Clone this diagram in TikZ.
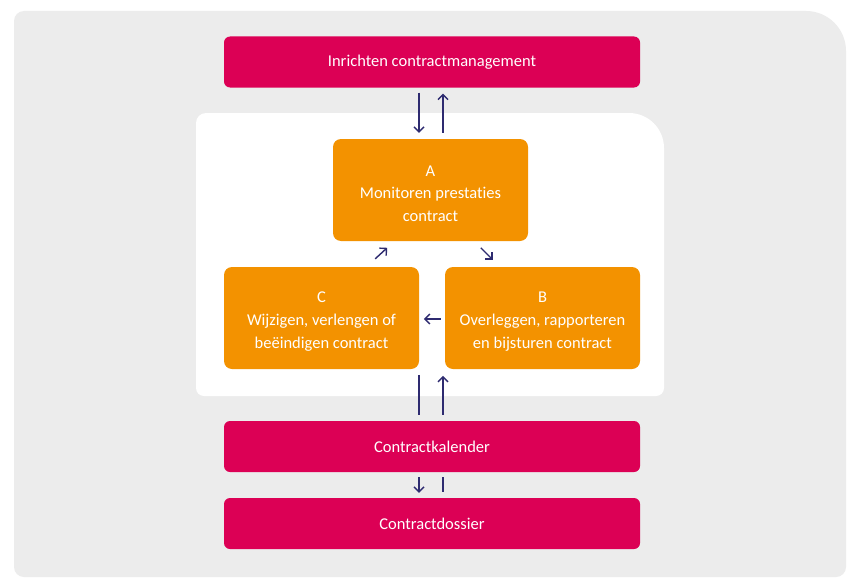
\documentclass[tikz,border=0pt]{standalone}
\usepackage{fontspec}
\setmainfont{Carlito}[Ligatures={NoCommon}]
\usetikzlibrary{arrows.meta,calc}
\definecolor{bggray}{RGB}{236,236,236}
\definecolor{magbox}{RGB}{220,0,85}
\definecolor{orgbox}{RGB}{243,146,0}
\definecolor{navy}{RGB}{46,43,112}
\begin{document}
\begin{tikzpicture}[x=1pt,y=-1pt,
  txt/.style={text=white,font=\fontsize{16.5}{22.8}\selectfont,align=center,inner sep=0pt},
  magnode/.style={txt,fill=magbox,rounded corners=6pt,minimum width=416pt,minimum height=51pt},
  orgnode/.style={txt,fill=orgbox,rounded corners=8pt,minimum width=195pt,minimum height=102pt},
  arr/.style={draw=navy,line width=1.4pt,-{Straight Barb[length=5pt,width=10pt,line width=1.4pt]}},
  ln/.style={draw=navy,line width=1.4pt}]
\useasboundingbox (0,0) rectangle (854,586);
\fill[white] (0,0) rectangle (854,586);
% gray background
\fill[bggray] (24,11) -- (806,11) .. controls (828.09,11) and (846,28.91) .. (846,51) -- (846,567) .. controls (846,572.52) and (841.52,577) .. (836,577) -- (24,577) .. controls (18.48,577) and (14,572.52) .. (14,567) -- (14,21) .. controls (14,15.48) and (18.48,11) .. (24,11) -- cycle;
% white panel
\fill[white] (206,113) -- (629,113) .. controls (648.33,113) and (664,128.67) .. (664,148) -- (664,388) .. controls (664,392.42) and (660.42,396) .. (656,396) -- (204,396) .. controls (199.58,396) and (196,392.42) .. (196,388) -- (196,123) .. controls (196,117.48) and (200.48,113) .. (206,113) -- cycle;
% nodes
\node[magnode] (top) at (432,62) {Inrichten contractmanagement};
\node[orgnode] (A) at (430.5,190) {\rule{0pt}{18pt}A\\Monitoren prestaties\\contract};
\node[orgnode] (C) at (321.5,318) {\rule{0pt}{18pt}C\\Wijzigen, verlengen of\\beëindigen contract};
\node[orgnode] (B) at (542.5,318) {\rule{0pt}{18pt}B\\Overleggen, rapporteren\\en bijsturen contract};
\node[magnode] (kal) at (432,446.5) {Contractkalender};
\node[magnode] (dos) at (432,523.5) {Contractdossier};
% arrows top
\draw[arr] ($(top.south)+(-13,5)$) -- ($(A.north)+(-11.5,-6)$);
\draw[arr] ($(A.north)+(12.5,-6)$) -- ($(top.south)+(11,6)$);
% cycle arrows
\draw[arr] ($(C.north east)+(-44,-8)$) -- ($(C.north east)+(-32,-19)$);
\draw[arr] ($(B.north west)+(36,-19)$) -- ($(B.north west)+(48,-7)$);
\draw[arr] ($(B.west)+(-4,1)$) -- ($(B.west)+(-21,1)$);
% arrows bottom
\draw[ln] ($(kal.north)+(-13,-46)$) -- ($(kal.north)+(-13,-6)$);
\draw[arr] ($(kal.north)+(11,-6)$) -- ($(kal.north)+(11,-45)$);
\draw[arr] ($(kal.south)+(-13,5)$) -- ($(dos.north)+(-13,-5)$);
\draw[ln] ($(kal.south)+(11,5)$) -- ($(dos.north)+(11,-6)$);
\end{tikzpicture}
\end{document}
